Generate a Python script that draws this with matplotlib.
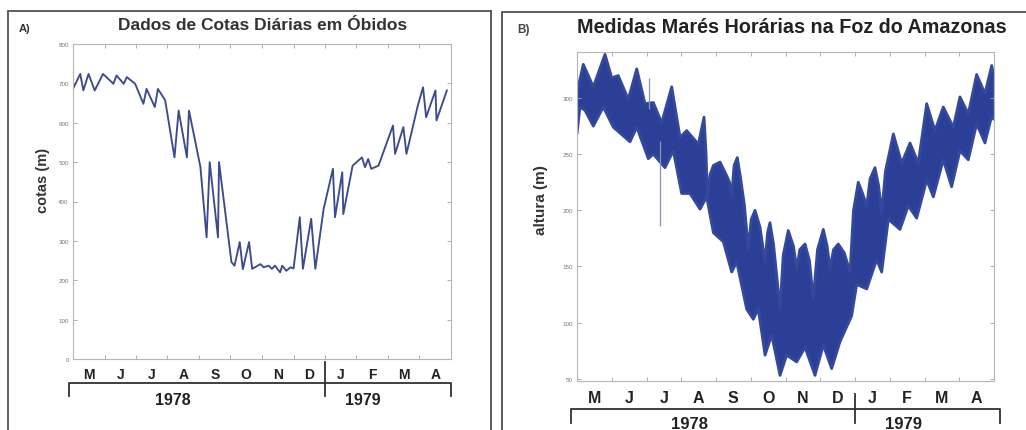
import numpy as np
import matplotlib.pyplot as plt
from matplotlib.patches import Rectangle
from matplotlib.lines import Line2D
from matplotlib.transforms import blended_transform_factory

plt.rcParams['font.family'] = ['Liberation Sans', 'DejaVu Sans']

# painel A: cotas diarias em Obidos (dias desde 1/mai/1978)
dias_a = [0, 7, 10, 15, 21, 29, 39, 42, 49, 52,
          60, 68, 71, 79, 82, 89, 98, 102, 110, 112,
          123, 129, 132, 140, 141, 153, 156, 161, 164, 170,
          173, 181, 184, 189, 192, 195, 200, 202, 206, 210,
          213, 219, 222, 230, 234, 242, 251, 253, 260, 261,
          270, 279, 282, 285, 288, 295, 309, 311, 319, 322,
          333, 338, 341, 350, 351, 361]
cotas_a = [686, 724, 682, 724, 682, 724, 699, 720, 699, 716,
           699, 648, 686, 640, 686, 657, 512, 631, 512, 631,
           488, 309, 500, 309, 500, 246, 237, 297, 228, 297,
           229, 241, 233, 237, 229, 237, 220, 237, 224, 233,
           230, 360, 229, 356, 229, 381, 483, 360, 474, 368,
           491, 512, 487, 508, 483, 491, 593, 521, 589, 521,
           644, 690, 614, 682, 606, 682]

# painel B: envoltorias (max/min) da mare horaria
dias_sup_b = [0, 5.5, 14.3, 24.5, 30.4, 36.1, 44.9, 52.3, 59.5, 66.8,
              74.1, 82.9, 90.2, 96.0, 106.2, 111.2, 113.0, 114.2, 116.5, 119.4,
              125.2, 131.0, 133.5, 135.4, 137.5, 140.3, 143.0, 146.5, 149.9, 152.5,
              155.8, 160.2, 164.6, 166.8, 168.9, 172.0, 175.0, 177.7, 180.5, 184.9,
              189.5, 192.3, 195.0, 199.6, 203.5, 206.8, 210.5, 215.6, 219.0, 221.4,
              224.5, 228.7, 234.0, 239.0, 242.0, 246.2, 250.0, 253.6, 256.5, 260.8,
              264.0, 266.7, 270.0, 276.9, 284.2, 291.5, 298.7, 306.1, 313.3, 320.6,
              329.4, 335.2, 342.5, 349.8, 357.1, 363.0, 365]
alt_sup_b = [305, 330, 310, 339, 318, 320, 299, 326, 295, 296,
             278, 310, 265, 271, 259, 283, 250, 210, 232, 240,
             243, 231, 225, 213, 240, 247, 230, 205, 166, 192,
             200, 185, 154, 180, 189, 170, 140, 112, 160, 182,
             168, 148, 165, 170, 155, 121, 165, 183, 168, 148,
             165, 170, 162, 145, 200, 225, 215, 204, 228, 238,
             222, 198, 235, 268, 242, 260, 242, 295, 271, 292,
             274, 301, 286, 321, 304, 329, 318]
dias_inf_b = [0, 2.6, 7.0, 14.3, 23.0, 31.8, 46.4, 52.3, 62.4, 66.8,
              77.0, 84.3, 91.6, 98.9, 107.7, 113.5, 119.4, 128.1, 135.4, 139.8,
              148.5, 154.3, 158.7, 164.6, 170.4, 177.7, 183.5, 192.3, 199.6, 208.3,
              215.6, 222.9, 230.2, 240.4, 244.8, 253.6, 262.3, 266.7, 272.5, 282.7,
              290.0, 297.3, 306.1, 311.9, 320.6, 327.9, 335.2, 342.5, 349.8, 357.1,
              363.0, 365]
alt_inf_b = [268, 292, 289, 275, 292, 274, 261, 274, 246, 250,
             238, 253, 215, 215, 201, 212, 180, 172, 145, 154,
             112, 103, 112, 71, 89, 53, 71, 65, 78, 53,
             80, 59, 83, 106, 134, 130, 156, 145, 192, 183,
             204, 193, 227, 212, 245, 221, 253, 245, 277, 260,
             284, 281]
# picos isolados
dias_pico_b = [63.0, 72.6]
pico_topo_b = [318, 262]
pico_base_b = [290, 186]

meses = ['M', 'J', 'J', 'A', 'S', 'O', 'N', 'D', 'J', 'F', 'M', 'A']
anos = ['1978', '1979']
yticks_a = [0, 100, 200, 300, 400, 500, 600, 700, 800]
yticks_b = [50, 100, 150, 200, 250, 300]

W, H = 1026, 431


def fx(x):
    return x / W


def fy(y):
    return 1 - y / H


fig = plt.figure(figsize=(W / 100, H / 100), dpi=100)

# molduras dos paineis
fig.add_artist(Rectangle((fx(7.5), fy(440)), (490.5 - 7.5) / W, (440 - 11.5) / H,
                         fill=False, ec='#505050', lw=1.3, transform=fig.transFigure))
fig.add_artist(Rectangle((fx(502), fy(440)), (1040 - 502) / W, (440 - 12.5) / H,
                         fill=False, ec='#505050', lw=1.3, transform=fig.transFigure))

ax_a = fig.add_axes([fx(73), fy(360), 378 / W, 315 / H])
ax_b = fig.add_axes([fx(577), fy(382), 417 / W, 329 / H])

bordas = np.linspace(0, 365, 13)
meios = (bordas[:-1] + bordas[1:]) / 2

for ax in (ax_a, ax_b):
    for s in ax.spines.values():
        s.set_color('#b5b5b5')
        s.set_linewidth(0.8)
    ax.set_xlim(0, 365)
    ax.set_xticks(bordas)
    ax.set_xticklabels([])
    ax.tick_params(direction='in', top=True, right=True, length=3, width=0.6,
                   color='#a0a0a0', labelsize=4.5, labelcolor='#777777', pad=3)

ax_a.plot(dias_a, cotas_a, color='#3d4b8e', lw=1.35)
ax_a.set_ylim(0, 800)
ax_a.set_yticks(yticks_a)

xs = np.r_[dias_sup_b, dias_inf_b[::-1]]
ys = np.r_[alt_sup_b, alt_inf_b[::-1]]
ax_b.fill(xs, ys, color='#2b3f96', ec='#34489c', lw=2.0, joinstyle='round')
ax_b.vlines(dias_pico_b, pico_base_b, pico_topo_b, color='#8a93bd', lw=0.9)
ax_b.set_ylim(48, 341)
ax_b.set_yticks(yticks_b)

# titulos e rotulos
fig.text(fx(263), fy(26), 'Dados de Cotas Diárias em Óbidos', ha='center', va='center',
         fontsize=12.5, fontweight='bold', color='#333333')
fig.text(fx(25), fy(29), 'A)', ha='center', va='center', fontsize=8,
         fontweight='bold', color='#333333')
fig.text(fx(792), fy(28), 'Medidas Marés Horárias na Foz do Amazonas', ha='center',
         va='center', fontsize=14.2, fontweight='bold', color='#222222')
fig.text(fx(524), fy(30), 'B)', ha='center', va='center', fontsize=8.5,
         fontweight='bold', color='#444444')
fig.text(fx(43), fy(180), 'cotas (m)', rotation=90, ha='center', va='center',
         fontsize=10.5, fontweight='bold', color='#333333')
fig.text(fx(541), fy(200), 'altura (m)', rotation=90, ha='center', va='center',
         fontsize=11, fontweight='bold', color='#333333')


def eixo_meses(ax, y_mes, y_barra, y_fim, y_div0, x0, x1, y_ano, x_anos, tam_mes, tam_ano):
    tr = blended_transform_factory(ax.transData, fig.transFigure)
    for m, xm in zip(meses, meios):
        fig.text(xm, fy(y_mes), m, transform=tr, ha='center', va='center',
                 fontsize=tam_mes, fontweight='bold', color='#222222')
    cor = '#303030'
    fig.add_artist(Line2D([fx(x0), fx(x0), fx(x1), fx(x1)],
                          [fy(y_fim), fy(y_barra), fy(y_barra), fy(y_fim)],
                          color=cor, lw=1.3, transform=fig.transFigure))
    fig.add_artist(Line2D([bordas[8], bordas[8]], [fy(y_div0), fy(y_fim)],
                          color=cor, lw=1.3, transform=tr))
    for a, xa in zip(anos, x_anos):
        fig.text(fx(xa), fy(y_ano), a, ha='center', va='center',
                 fontsize=tam_ano, fontweight='bold', color='#222222')


eixo_meses(ax_a, 375, 384, 397, 363, 69, 451, 401, [173, 363], 10, 11.5)
eixo_meses(ax_b, 399, 410, 424, 395, 571, 1000, 425, [690, 903], 11.5, 12)

fig.savefig('out.png', dpi=100)
